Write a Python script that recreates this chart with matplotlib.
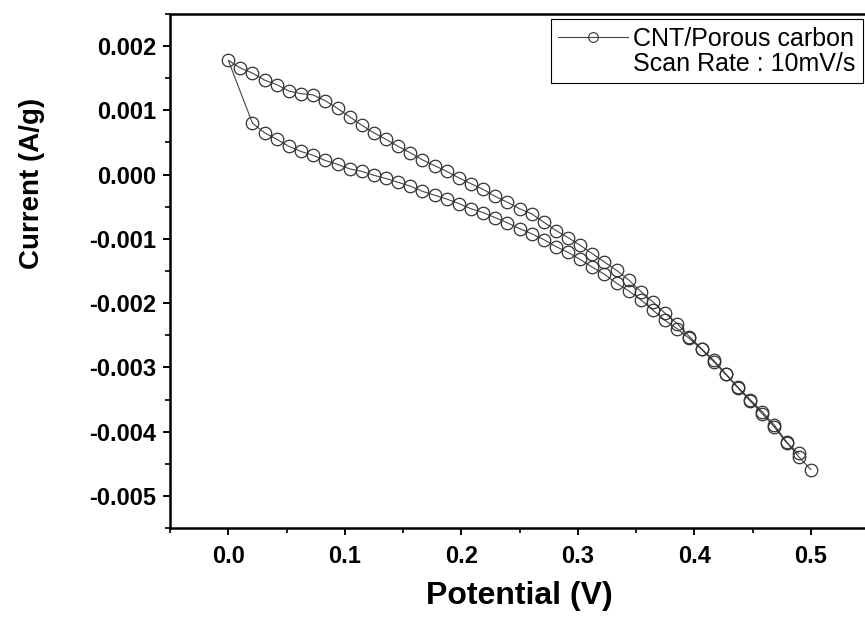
import matplotlib
matplotlib.use("Agg")
import matplotlib.pyplot as plt
from matplotlib.ticker import MultipleLocator, FormatStrFormatter
from matplotlib.lines import Line2D

plt.rcParams['font.family'] = ['Liberation Sans', 'DejaVu Sans']
plt.rcParams['axes.unicode_minus'] = False

# forward scan (upper branch), potential in V, current in A/g
potential_fwd = [0.0000, 0.0104, 0.0208, 0.0313, 0.0417, 0.0521, 0.0625, 0.0729,
                 0.0833, 0.0938, 0.1042, 0.1146, 0.1250, 0.1354, 0.1458, 0.1563,
                 0.1667, 0.1771, 0.1875, 0.1979, 0.2083, 0.2188, 0.2292, 0.2396,
                 0.2500, 0.2604, 0.2708, 0.2813, 0.2917, 0.3021, 0.3125, 0.3229,
                 0.3333, 0.3438, 0.3542, 0.3646, 0.3750, 0.3854, 0.3958, 0.4063,
                 0.4167, 0.4271, 0.4375, 0.4479, 0.4583, 0.4688, 0.4792, 0.4896,
                 0.5000]
current_fwd = [0.00178, 0.00166, 0.00158, 0.00147, 0.00140, 0.00130, 0.00126, 0.00124,
               0.00115, 0.00103, 0.00090, 0.00077, 0.00065, 0.00055, 0.00044, 0.00034,
               0.00023, 0.00014, 0.00005, -0.00005, -0.00014, -0.00023, -0.00034, -0.00043,
               -0.00053, -0.00061, -0.00074, -0.00087, -0.00098, -0.00110, -0.00123, -0.00136,
               -0.00149, -0.00164, -0.00182, -0.00198, -0.00216, -0.00232, -0.00252, -0.00271,
               -0.00289, -0.00310, -0.00331, -0.00350, -0.00369, -0.00390, -0.00416, -0.00439,
               -0.00459]

# reverse scan (lower branch)
potential_rev = [0.0208, 0.0313, 0.0417, 0.0521, 0.0625, 0.0729, 0.0833, 0.0938,
                 0.1042, 0.1146, 0.1250, 0.1354, 0.1458, 0.1563, 0.1667, 0.1771,
                 0.1875, 0.1979, 0.2083, 0.2188, 0.2292, 0.2396, 0.2500, 0.2604,
                 0.2708, 0.2813, 0.2917, 0.3021, 0.3125, 0.3229, 0.3333, 0.3438,
                 0.3542, 0.3646, 0.3750, 0.3854, 0.3958, 0.4063, 0.4167, 0.4271,
                 0.4375, 0.4479, 0.4583, 0.4688, 0.4792, 0.4896]
current_rev = [0.00080, 0.00065, 0.00055, 0.00044, 0.00036, 0.00030, 0.00022, 0.00016,
               0.00009, 0.00005, -0.00001, -0.00006, -0.00012, -0.00018, -0.00026, -0.00032,
               -0.00038, -0.00045, -0.00053, -0.00059, -0.00067, -0.00075, -0.00084, -0.00092,
               -0.00101, -0.00112, -0.00121, -0.00132, -0.00144, -0.00155, -0.00169, -0.00181,
               -0.00195, -0.00211, -0.00227, -0.00240, -0.00255, -0.00272, -0.00291, -0.00311,
               -0.00332, -0.00352, -0.00372, -0.00393, -0.00417, -0.00434]

# one continuous CV loop: reverse branch back to 0 V, then forward to 0.5 V
x = potential_rev[::-1] + potential_fwd
y = current_rev[::-1] + current_fwd

fig = plt.figure(figsize=(8.65, 6.28), dpi=100)
ax = fig.add_axes([170/865, 1 - 528/628, 699/865, 514/628])

ax.plot(x, y, color='#444444', lw=0.8, marker='o', markersize=9,
        markerfacecolor='none', markeredgecolor='#333333', markeredgewidth=0.9)

ax.set_xlim(-0.05, 0.55)
ax.set_ylim(-0.0055, 0.0025)

ax.xaxis.set_major_locator(MultipleLocator(0.1))
ax.xaxis.set_minor_locator(MultipleLocator(0.05))
ax.yaxis.set_major_locator(MultipleLocator(0.001))
ax.yaxis.set_minor_locator(MultipleLocator(0.0005))
ax.xaxis.set_major_formatter(FormatStrFormatter('%.1f'))
ax.yaxis.set_major_formatter(FormatStrFormatter('%.3f'))

ax.spines['right'].set_visible(False)
for s in ['left', 'bottom', 'top']:
    ax.spines[s].set_linewidth(1.8)
ax.tick_params(which='major', direction='out', length=5, width=1.4,
               top=False, right=False)
ax.tick_params(which='minor', direction='out', length=3.5, width=1.2,
               top=False, right=False)
for lab in ax.get_xticklabels():
    lab.set_fontweight('bold')
    lab.set_fontsize(17)
for lab in ax.get_yticklabels():
    lab.set_fontweight('bold')
    lab.set_fontsize(17)
ax.tick_params(axis='x', pad=7)
ax.tick_params(axis='y', pad=5)

ax.set_xlabel('Potential (V)', fontsize=23, fontweight='bold')
ax.xaxis.set_label_coords(0.5, -0.104)
ax.set_ylabel('Current (A/g)', fontsize=20, fontweight='bold')
ax.yaxis.set_label_coords(-0.179, 0.671)

h1 = Line2D([], [], color='#444444', lw=0.8, marker='o', markersize=7,
            markerfacecolor='none', markeredgecolor='#333333', markeredgewidth=0.8)
h2 = Line2D([], [], color='none')
leg = ax.legend([h1, h2], ['CNT/Porous carbon', 'Scan Rate : 10mV/s'],
                loc='upper right', bbox_to_anchor=(863/865, 1 - 19/628),
                bbox_transform=fig.transFigure, borderaxespad=0,
                fancybox=False, edgecolor='black', framealpha=1,
                fontsize=18, handlelength=2.8, handletextpad=0.2,
                labelspacing=0.05, borderpad=0.3)
leg.get_frame().set_linewidth(0.8)

fig.savefig('out.png', dpi=100)
